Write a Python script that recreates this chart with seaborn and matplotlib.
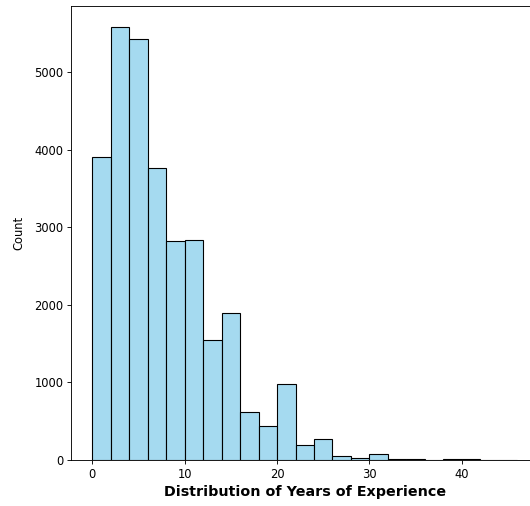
import numpy as np
import matplotlib
matplotlib.use("Agg")
import matplotlib.pyplot as plt
import seaborn as sns

# histogram: bins of 2 years, counts per bin
bin_edges = [0, 2, 4, 6, 8, 10, 12, 14, 16, 18, 20, 22, 24, 26, 28, 30,
             32, 34, 36, 38, 40, 42, 44, 46]
counts = [3900, 5575, 5420, 3760, 2825, 2840, 1545, 1900, 625, 440, 978,
          193, 270, 51, 21, 73, 10, 10, 0, 8, 8, 0, 1]

bin_centers = [(a + b) / 2 for a, b in zip(bin_edges[:-1], bin_edges[1:])]

# the reference looks like a 72 dpi notebook figure scaled up ~1.1x
DPI = 79.2
fig = plt.figure(figsize=(530 / DPI, 506 / DPI), dpi=DPI)
ax = fig.add_axes([0.134, 0.0909, 0.882, 0.8978])

sns.histplot(x=bin_centers, weights=counts, bins=bin_edges, color="skyblue",
             edgecolor="black", linewidth=1.0, ax=ax)

ax.set_xlabel("Distribution of Years of Experience", fontsize=13, fontweight="bold")
ax.set_ylabel("Count", fontsize=10.5, labelpad=8)
ax.tick_params(labelsize=10.5)

fig.savefig("out.png", dpi=DPI)
